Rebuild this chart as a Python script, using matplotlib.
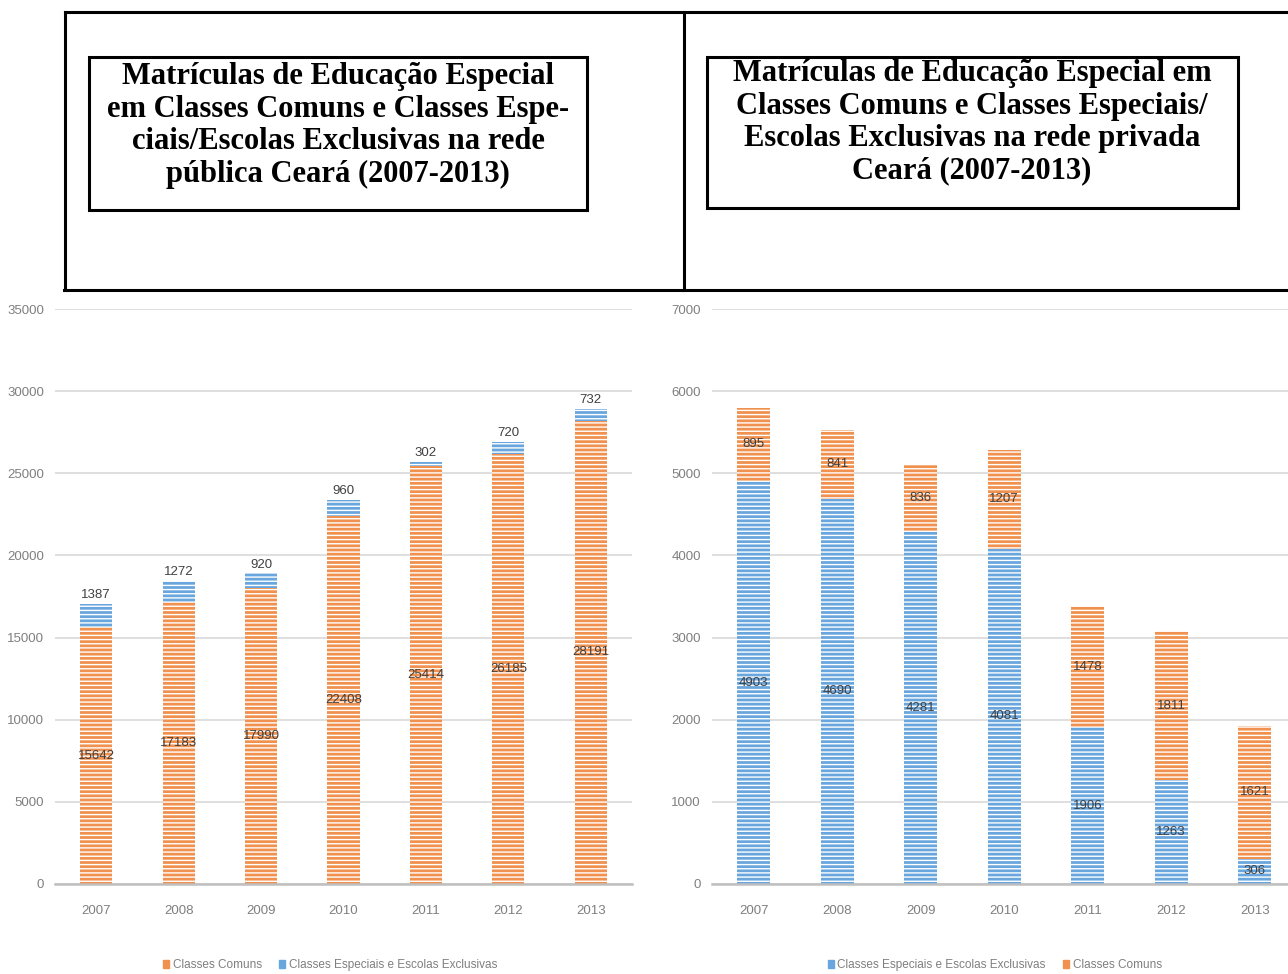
import matplotlib
matplotlib.use("Agg")
import matplotlib.pyplot as plt
from matplotlib.patches import Patch, Rectangle
from matplotlib.lines import Line2D

# dados
anos = ['2007', '2008', '2009', '2010', '2011', '2012', '2013']

# rede pública
pub_comuns = [15642, 17183, 17990, 22408, 25414, 26185, 28191]
pub_especiais = [1387, 1272, 920, 960, 302, 720, 732]

# rede privada
priv_especiais = [4903, 4690, 4281, 4081, 1906, 1263, 306]
priv_comuns = [895, 841, 836, 1207, 1478, 1811, 1621]

titulo_pub = ("Matrículas de Educação Especial\n"
              "em Classes Comuns e Classes Espe-\n"
              "ciais/Escolas Exclusivas na rede\n"
              "pública Ceará (2007-2013)")
titulo_priv = ("Matrículas de Educação Especial em\n"
               "Classes Comuns e Classes Especiais/\n"
               "Escolas Exclusivas na rede privada\n"
               "Ceará (2007-2013)")

LARANJA = '#F0914F'
AZUL = '#69A6DE'
CINZA = '#7F7F7F'

plt.rcParams['font.family'] = ['Liberation Sans', 'DejaVu Sans']
plt.rcParams['hatch.linewidth'] = 1.0

W, H = 1288, 974
fig = plt.figure(figsize=(W / 100, H / 100), dpi=100)


def eixo(px_left, px_width):
    ax = fig.add_axes([px_left / W, (H - 884) / H, px_width / W, 575 / H])
    for s in ['top', 'right', 'left']:
        ax.spines[s].set_visible(False)
    ax.spines['bottom'].set_color('#BFBFBF')
    ax.spines['bottom'].set_linewidth(1.8)
    ax.grid(axis='y', color='#D9D9D9', linewidth=1.2)
    ax.set_axisbelow(True)
    ax.tick_params(axis='both', length=0, colors=CINZA, labelsize=9.5)
    ax.tick_params(axis='y', pad=8)
    ax.tick_params(axis='x', pad=15)
    return ax


def barras(ax, base, topo, cor_base, cor_topo):
    x = range(len(anos))
    b1 = ax.bar(x, base, width=0.39, color=cor_base, edgecolor='white',
                linewidth=0, hatch='----')
    b2 = ax.bar(x, topo, width=0.39, bottom=base, color=cor_topo,
                edgecolor='white', linewidth=0, hatch='----')
    return b1, b2


# ---- gráfico rede pública ----
ax1 = eixo(55, 577)
b1, b2 = barras(ax1, pub_comuns, pub_especiais, LARANJA, AZUL)
ax1.set_xlim(-0.5, 6.5)
ax1.set_ylim(0, 35000)
ax1.set_yticks(range(0, 35001, 5000))
ax1.set_xticks(range(len(anos)))
ax1.set_xticklabels(anos)
ax1.bar_label(b1, labels=[str(v) for v in pub_comuns], label_type='center',
              fontsize=9.5, color='#404040')
ax1.bar_label(b2, labels=[str(v) for v in pub_especiais], label_type='edge',
              padding=2, fontsize=9.5, color='#404040')
ax1.legend(handles=[Patch(color=LARANJA, label='Classes Comuns'),
                    Patch(color=AZUL, label='Classes Especiais e Escolas Exclusivas')],
           loc='center', bbox_to_anchor=(0.477, -0.141), ncol=2, frameon=False,
           handlelength=0.5, handleheight=0.7, handletextpad=0.3,
           columnspacing=1.5, fontsize=8.5, labelcolor=CINZA)

# ---- gráfico rede privada ----
ax2 = eixo(712, 584.5)
c1, c2 = barras(ax2, priv_especiais, priv_comuns, AZUL, LARANJA)
ax2.set_xlim(-0.5, 6.5)
ax2.set_ylim(0, 7000)
ax2.set_yticks(range(0, 7001, 1000))
ax2.set_xticks(range(len(anos)))
ax2.set_xticklabels(anos)
ax2.bar_label(c1, labels=[str(v) for v in priv_especiais], label_type='center',
              fontsize=9.5, color='#404040')
ax2.bar_label(c2, labels=[str(v) for v in priv_comuns], label_type='center',
              fontsize=9.5, color='#404040')
ax2.legend(handles=[Patch(color=AZUL, label='Classes Especiais e Escolas Exclusivas'),
                    Patch(color=LARANJA, label='Classes Comuns')],
           loc='center', bbox_to_anchor=(0.484, -0.141), ncol=2, frameon=False,
           handlelength=0.5, handleheight=0.7, handletextpad=0.3,
           columnspacing=1.5, fontsize=8.5, labelcolor=CINZA)

# ---- quadro dos títulos ----
ov = fig.add_axes([0, 0, 1, 1], facecolor='none')
ov.set_xlim(0, W)
ov.set_ylim(H, 0)
ov.axis('off')
for xs, ys in [([65, W], [12, 12]), ([64, W], [290, 290]),
               ([65, 65], [12, 290]), ([684, 684], [12, 290])]:
    ov.add_line(Line2D(xs, ys, color='black', linewidth=2.2))
ov.add_patch(Rectangle((89, 57), 498, 153, fill=False, edgecolor='black', linewidth=2.2))
ov.add_patch(Rectangle((707, 57), 531, 151, fill=False, edgecolor='black', linewidth=2.2))
ov.text(338, 62, titulo_pub, ha='center', va='top', fontsize=22, fontweight='bold',
        family='Liberation Serif', linespacing=1.16)
ov.text(972, 59, titulo_priv, ha='center', va='top', fontsize=22, fontweight='bold',
        family='Liberation Serif', linespacing=1.16)

fig.savefig('out.png', dpi=100)
